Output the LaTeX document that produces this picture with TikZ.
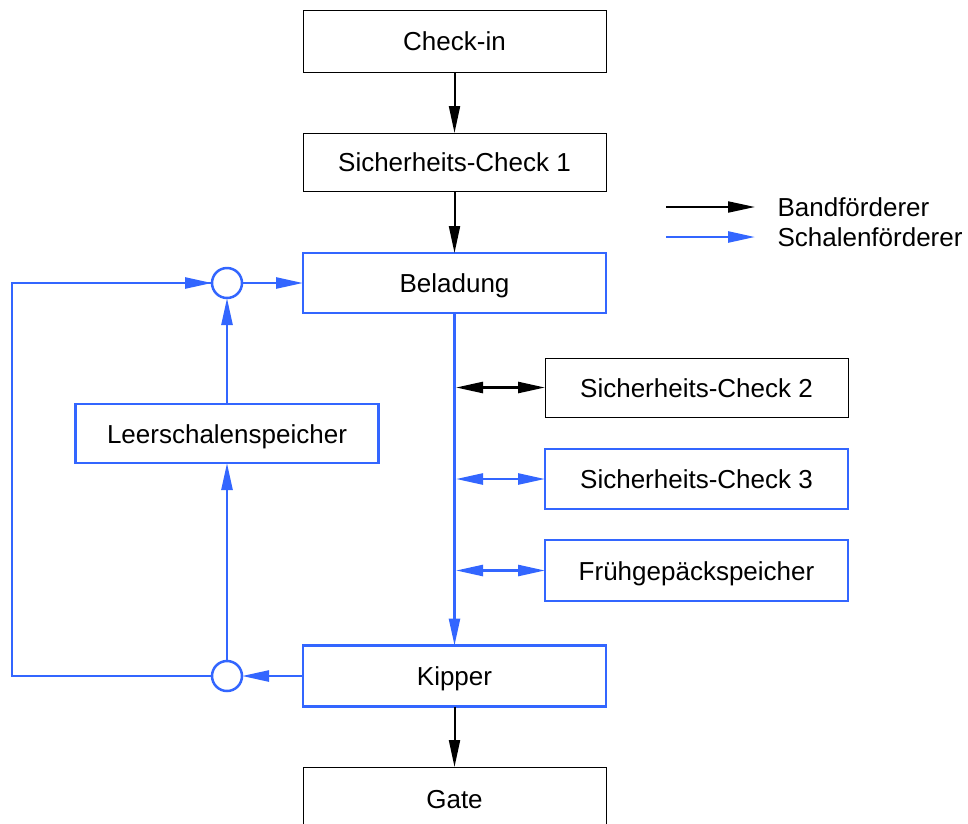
\documentclass[tikz,border=0pt]{standalone}
\usepackage{fontspec}
\setmainfont{Liberation Sans}
\usetikzlibrary{arrows.meta}
\definecolor{sblue}{RGB}{51,102,255}
\begin{document}
\begin{tikzpicture}[x=1pt,y=-1pt,
  every node/.style={font=\fontsize{26}{30}\selectfont},
  boxbase/.style={rectangle,inner sep=0pt,outer sep=0pt,minimum width=303pt,fill=white,text height=19pt,text depth=0pt},
  blackbox/.style={boxbase,draw=black,line width=1pt},
  bluebox/.style={boxbase,draw=sblue,line width=2.5pt},
  bcirc/.style={draw=sblue,line width=2.5pt,circle,minimum size=30pt,inner sep=0pt,outer sep=0pt,fill=white},
  tip/.tip={Triangle[length=27pt,width=11pt]},
  barrow/.style={draw=black,line width=2pt,-tip},
  blarrow/.style={draw=sblue,line width=2.5pt,-tip},
  bline/.style={draw=sblue,line width=2.5pt},
  legtext/.style={anchor=west,font=\fontsize{26}{30}\selectfont}
]
\useasboundingbox (0,0) rectangle (968,823);
\node[blackbox,minimum height=62pt] (checkin) at (454.5,41) {Check-in};
\node[blackbox,minimum height=58pt] (sc1) at (454.5,162) {Sicherheits-Check 1};
\node[bluebox,minimum height=60pt] (bel) at (454.5,283) {Beladung};
\node[blackbox,minimum height=59pt] (sc2) at (696.5,387.5) {Sicherheits-Check 2};
\node[bluebox,minimum height=60pt] (sc3) at (696.5,479) {Sicherheits-Check 3};
\node[bluebox,minimum height=61pt] (frueh) at (696.5,570.5) {Frühgepäckspeicher};
\node[bluebox,minimum height=59pt] (leer) at (227,433.5) {Leerschalenspeicher};
\node[bluebox,minimum height=61pt] (kip) at (454.5,676) {Kipper};
\node[blackbox,minimum height=64pt,anchor=north] (gate) at (454.5,767) {Gate};
\node[bcirc] (ct) at (227,283) {};
\node[bcirc] (cb) at (227,676) {};
% black conveyors
\draw[barrow] (checkin) -- (sc1);
\draw[barrow] (sc1) -- (bel);
\draw[barrow] (kip) -- (gate);
% main blue line
\draw[blarrow] (bel) -- (kip);
\draw[draw=black,line width=2.5pt,tip-tip] (bel.south |- sc2.west) ++(1.5,0) -- (sc2.west);
\draw[draw=sblue,line width=2.5pt,tip-tip] (bel.south |- sc3.west) ++(1.5,0) -- (sc3.west);
\draw[draw=sblue,line width=2.5pt,tip-tip] (bel.south |- frueh.west) ++(1.5,0) -- (frueh.west);
% loop
\coordinate (lb) at (12,676);
\coordinate (lt) at (12,283);
\draw[blarrow] (kip) -- (cb);
\draw[blarrow] (cb) -- (leer);
\draw[blarrow] (leer) -- (ct);
\draw[blarrow] (ct) -- (bel);
\draw[bline] (cb.west) -- (lb) -- (lt) -- (ct.west);
\draw[blarrow] (lt) -- (ct.west);
% legend
\coordinate (l1a) at (666,207);
\coordinate (l1b) at (755,207);
\coordinate (l2a) at (666,237);
\coordinate (l2b) at (755,237);
\draw[barrow] (l1a) -- (l1b);
\draw[blarrow] (l2a) -- (l2b);
\node[legtext] (lt1) at (774,207) {Bandförderer};
\node[legtext] (lt2) at (774,237) {Schalenförderer};
\end{tikzpicture}
\end{document}
